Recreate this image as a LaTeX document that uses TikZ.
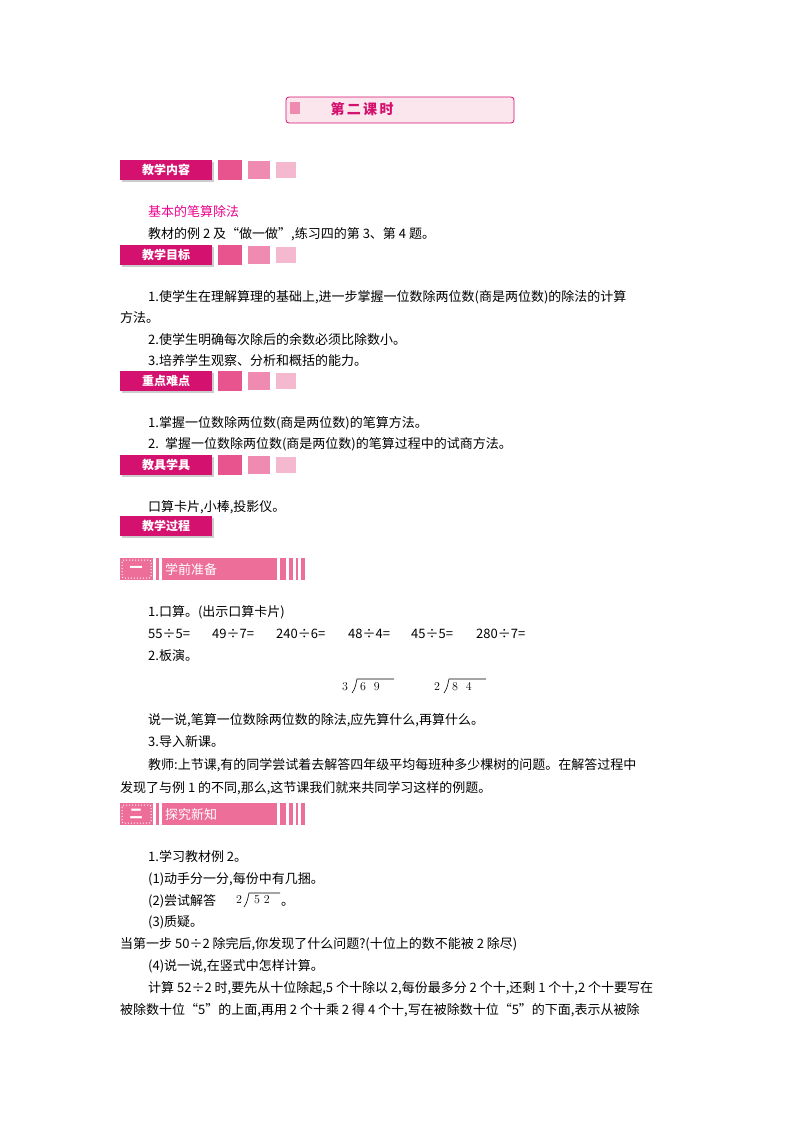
\documentclass[tikz,border=0pt]{standalone}
\usepackage{fontspec}
\usetikzlibrary{shadows}
\setmainfont{Noto Sans CJK SC}
\newfontfamily\lm{Latin Modern Roman}
\definecolor{mag}{HTML}{D4116E}
\definecolor{pk1}{HTML}{E8548E}
\definecolor{pk2}{HTML}{EF8BB0}
\definecolor{pk3}{HTML}{F5B9CF}
\definecolor{bar}{HTML}{EE6E9A}
\begin{document}
\begin{tikzpicture}[x=1pt,y=-1pt,
  txt/.style={anchor=west,inner sep=0pt,font=\fontsize{13}{13}\selectfont},
  hdr/.style={anchor=west,fill=mag,text=white,minimum width=92pt,minimum height=20pt,inner sep=0pt,font=\fontsize{12}{12}\selectfont\bfseries,drop shadow={opacity=0.4,shadow xshift=2pt,shadow yshift=-2pt}}]
\useasboundingbox (0,0) rectangle (800,1132);
% title
\node[draw=mag,rounded corners=3pt,line width=0.8pt,fill=pk3!35,minimum width=228pt,minimum height=26pt,inner sep=0pt] (title) at (400,110) {};
\fill[pk2] (290,102) rectangle (300,114);
\node[text=mag,font=\fontsize{14}{14}\selectfont\bfseries] (tt) at (362,109) {第\,二\,课\,时};
% headers
\foreach \y/\t/\n in {170/教学内容/a,255/教学目标/b,381/重点难点/c,465/教具学具/d}{
  \node[hdr] (h\n) at (120,\y) {\t};
  \fill[pk1] (218,\y-10) rectangle (242,\y+10);
  \fill[pk2] (248,\y-9) rectangle (270,\y+9);
  \fill[pk3] (276,\y-8) rectangle (296,\y+8);
}
\node[hdr] (he) at (120,526) {教学过程};
% section bars
\foreach \y/\n/\t in {569/一/学前准备,814/二/探究新知}{
  \fill[bar] (120,\y-11) rectangle (153,\y+11);
  \draw[white,line width=1pt,dotted,rounded corners=2pt] (122,\y-9) rectangle (151,\y+9);
  \node[text=white,font=\fontsize{13}{13}\selectfont\bfseries] at (136,\y) {\n};
  \fill[bar] (156,\y-11) rectangle (159,\y+11);
  \fill[bar] (162,\y-11) rectangle (277,\y+11);
  \node[txt,text=white,font=\fontsize{13}{13}\selectfont] at (165,\y) {\t};
  \fill[bar] (280,\y-11) rectangle (286,\y+11);
  \fill[bar] (289,\y-11) rectangle (293,\y+11);
  \fill[bar] (296,\y-11) rectangle (298,\y+11);
  \fill[bar] (301,\y-11) rectangle (305,\y+11);
}
% texts
\node[txt,text=magenta] (t1) at (148,212) {基本的笔算除法};
\node[txt] (t2) at (148,234) {教材的例 2 及“做一做”,练习四的第 3、第 4 题。};
\node[txt] (t3) at (148,297) {1.使学生在理解算理的基础上,进一步掌握一位数除两位数(商是两位数)的除法的计算};
\node[txt] (t4) at (120,318) {方法。};
\node[txt] (t5) at (148,340) {2.使学生明确每次除后的余数必须比除数小。};
\node[txt] (t6) at (148,361) {3.培养学生观察、分析和概括的能力。};
\node[txt] (t7) at (148,423) {1.掌握一位数除两位数(商是两位数)的笔算方法。};
\node[txt] (t8) at (148,444) {2.\, 掌握一位数除两位数(商是两位数)的笔算过程中的试商方法。};
\node[txt] (t9) at (148,507) {口算卡片,小棒,投影仪。};
\node[txt] (u1) at (148,612) {1.口算。(出示口算卡片)};
\foreach \x/\s in {148/55÷5=,212/49÷7=,276/240÷6=,348/48÷4=,411/45÷5=,476/280÷7=}
  \node[txt] at (\x,634) {\s};
\node[txt] (u2) at (148,656) {2.板演。};
\foreach \x/\a/\b in {342/3/6\ \ 9,434/2/8\ \ 4}{
  \node[txt,font=\lm\fontsize{12}{12}\selectfont] at (\x,687) {\a\quad\b};
  \draw[line width=0.6pt] (\x+10,693) .. controls (\x+14,688) and (\x+14,682) .. (\x+15,679) -- (\x+52,679);
}
\node[txt] (u3) at (148,720) {说一说,笔算一位数除两位数的除法,应先算什么,再算什么。};
\node[txt] (u4) at (148,742) {3.导入新课。};
\node[txt] (u5) at (148,765) {教师:上节课,有的同学尝试着去解答四年级平均每班种多少棵树的问题。在解答过程中};
\node[txt] (u6) at (120,788) {发现了与例 1 的不同,那么,这节课我们就来共同学习这样的例题。};
\node[txt] (v1) at (148,857) {1.学习教材例 2。};
\node[txt] (v2) at (148,879) {(1)动手分一分,每份中有几捆。};
\node[txt] (v3) at (148,901) {(2)尝试解答\qquad\qquad\quad 。};
\node[txt,font=\lm\fontsize{12}{12}\selectfont] at (236,900) {2\quad 5\ 2};
\draw[line width=0.6pt] (244,907) .. controls (248,902) and (248,896) .. (249,893) -- (280,893);
\node[txt] (v4) at (148,922) {(3)质疑。};
\node[txt] (v5) at (120,944) {当第一步 50÷2 除完后,你发现了什么问题?(十位上的数不能被 2 除尽)};
\node[txt] (v6) at (148,966) {(4)说一说,在竖式中怎样计算。};
\node[txt] (v7) at (148,988) {计算 52÷2 时,要先从十位除起,5 个十除以 2,每份最多分 2 个十,还剩 1 个十,2 个十要写在};
\node[txt] (v8) at (120,1010) {被除数十位“5”的上面,再用 2 个十乘 2 得 4 个十,写在被除数十位“5”的下面,表示从被除};
\end{tikzpicture}
\end{document}
